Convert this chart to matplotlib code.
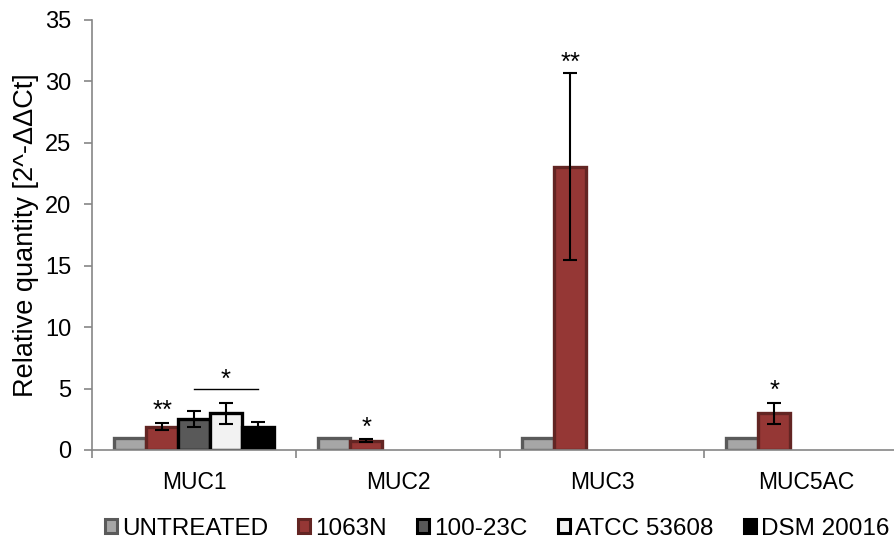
import numpy as np
import matplotlib
matplotlib.use("Agg")
import matplotlib.pyplot as plt
from matplotlib.patches import Patch

plt.rcParams['font.family'] = ['Liberation Sans', 'DejaVu Sans']

genes = ["MUC1", "MUC2", "MUC3", "MUC5AC"]
groups = ["UNTREATED", "1063N", "100-23C", "ATCC 53608", "DSM 20016"]

untreated = [1.0, 1.0, 1.0, 1.0]
strain_1063n = [1.9, 0.75, 23.05, 3.0]
strain_1063n_err = [0.3, 0.12, 7.6, 0.85]
strain_100_23c = [2.55, np.nan, np.nan, np.nan]
strain_100_23c_err = [0.65, np.nan, np.nan, np.nan]
atcc_53608 = [3.0, np.nan, np.nan, np.nan]
atcc_53608_err = [0.85, np.nan, np.nan, np.nan]
dsm_20016 = [1.9, np.nan, np.nan, np.nan]
dsm_20016_err = [0.4, np.nan, np.nan, np.nan]

# significance marks: (gene index, group index, label, height)
stars = [(0, 1, "**", 3.82), (0, 3, "*", 6.35), (1, 1, "*", 2.38),
         (2, 1, "**", 32.1), (3, 1, "*", 5.45)]
# bracket over MUC1 strains 100-23C .. DSM 20016
bracket = (0, 2, 4, 5.0)

values = [untreated, strain_1063n, strain_100_23c, atcc_53608, dsm_20016]
errors = [None, strain_1063n_err, strain_100_23c_err, atcc_53608_err, dsm_20016_err]
fills = ["#a6a6a6", "#953735", "#595959", "#f2f2f2", "#000000"]
edges = ["#5a5a5a", "#632523", "#000000", "#000000", "#000000"]

fig = plt.figure(figsize=(8.94, 5.42), dpi=100)
ax = fig.add_axes([92 / 894, 92 / 542, 816 / 894, 430 / 542])

gap = 0.11
bw = 0.156
x0 = np.arange(len(genes))

def xpos(j):
    return x0 + gap + (j + 0.5) * bw

for j, (vals, errs) in enumerate(zip(values, errors)):
    ax.bar(xpos(j), vals, width=bw, color=fills[j], edgecolor=edges[j],
           linewidth=2.4, zorder=2)
    if errs is not None:
        ax.errorbar(xpos(j), vals, yerr=errs, fmt='none', ecolor='black',
                    elinewidth=1.5, capsize=5, capthick=1.5, zorder=3)

for gi, j, label, h in stars:
    ax.annotate(label, xy=(xpos(j)[gi], h), xytext=(0, -10.5),
                textcoords='offset points', ha='center', va='baseline',
                fontsize=18.5, color='black')

gi, ja, jb, h = bracket
ax.plot([xpos(ja)[gi], xpos(jb)[gi]], [h, h], color='black', lw=1.0, zorder=3)

ax.set_xlim(0, len(genes))
ax.set_ylim(0, 35)
ax.set_yticks(np.arange(0, 36, 5))
ax.set_xticks(np.arange(len(genes) + 1))
ax.set_xticklabels([])
ax.set_xticks(x0 + 0.5, minor=True)
ax.set_xticklabels(genes, minor=True)
ax.tick_params(axis='x', which='minor', length=0, pad=15, labelsize=16.5)
ax.tick_params(axis='x', which='major', length=6, width=1.2, color='#868686', direction='out')
ax.tick_params(axis='y', length=6, width=1.2, color='#868686', direction='out',
               labelsize=17, pad=9)

for s in ['top', 'right']:
    ax.spines[s].set_visible(False)
for s in ['left', 'bottom']:
    ax.spines[s].set_color('#868686')
    ax.spines[s].set_linewidth(1.2)

ax.set_ylabel("Relative quantity [2^-ΔΔCt]", fontsize=19.5, labelpad=4)

handles = [Patch(facecolor=fills[j], edgecolor=edges[j], linewidth=2.2) for j in range(len(groups))]
fig.legend(handles, groups, loc='center', bbox_to_anchor=(497 / 894, 13 / 542),
           ncol=5, frameon=False, fontsize=17.5, handlelength=0.5, handleheight=0.5,
           handletextpad=0.2, columnspacing=1.25, borderaxespad=0)

fig.savefig("out.png", dpi=100)
